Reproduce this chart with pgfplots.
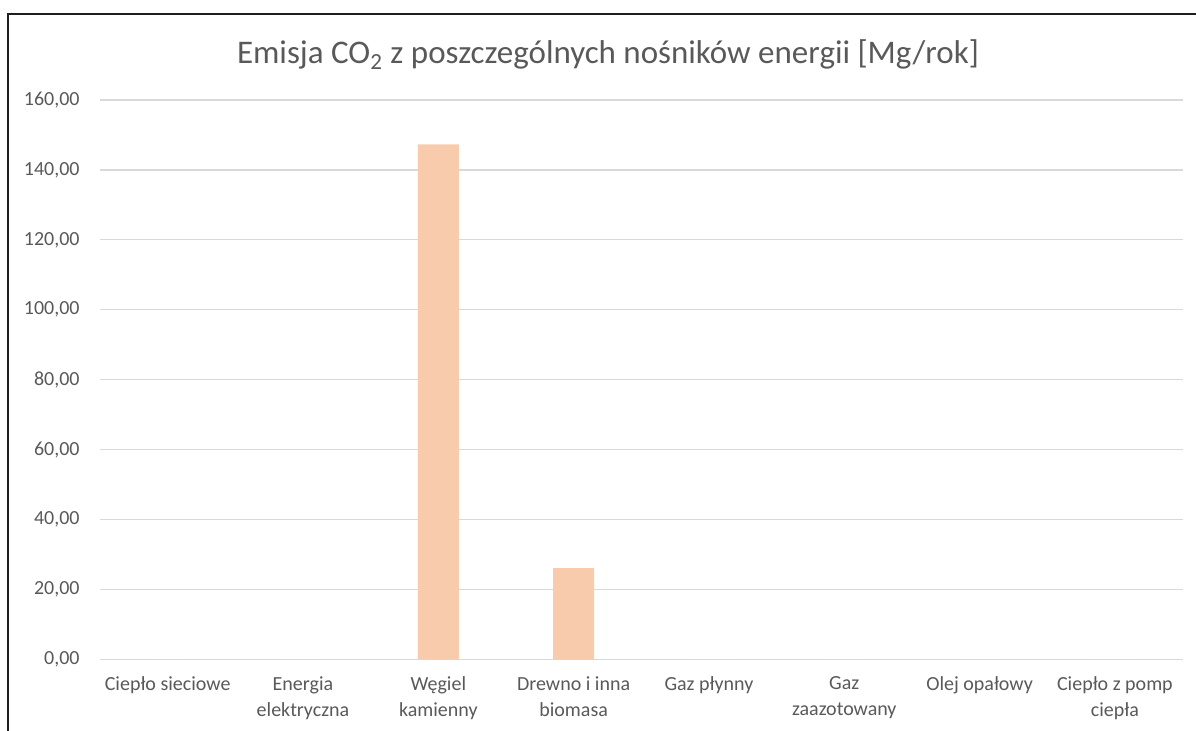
\documentclass[border=0pt]{standalone}
\usepackage{pgfplots}
\pgfplotsset{compat=1.18}
\usepackage{fontspec}
\setmainfont{Carlito}
\definecolor{txt}{HTML}{595959}
\definecolor{gridc}{HTML}{D9D9D9}
\definecolor{barc}{HTML}{F8CBAD}
\begin{document}
\begin{tikzpicture}
\useasboundingbox (0pt,0pt) rectangle (598pt,365.5pt);
\clip (0pt,0pt) rectangle (598pt,365.5pt);
\draw[line width=1.25pt, color=black!88] (4pt,-10pt) rectangle (620pt,358.6pt);
\node[anchor=base, text=txt, font=\fontsize{16.5}{20}\selectfont, inner sep=0pt] at (304pt,333.5pt) {Emisja CO\textsubscript{2} z poszczególnych nośników energii [Mg/rok]};
\begin{axis}[
  at={(50pt,35.8pt)}, anchor=south west,
  scale only axis, width=541.3pt, height=279.7pt,
  xmin=-0.5, xmax=7.5, ymin=0, ymax=160,
  ytick={0,20,...,160},
  xtick={0,...,7},
  xticklabels={Ciepło sieciowe, Energia\\elektryczna, Węgiel\\kamienny, Drewno i inna\\biomasa, Gaz płynny, Gaz\\zaazotowany, Olej opałowy, Ciepło z pomp\\ciepła},
  axis line style={draw=none},
  major tick length=0pt,
  tick style={draw=none},
  ymajorgrids,
  major grid style={color=gridc, line width=0.6pt},
  /pgf/number format/.cd, fixed, fixed zerofill, precision=2, use comma, 1000 sep={}, assume math mode=true,
  /pgfplots/.cd,
  yticklabel style={anchor=east, inner sep=0pt, xshift=-10pt, text=txt, font=\fontsize{10}{13}\selectfont},
  xticklabel style={anchor=north, inner sep=0pt, yshift=-8.5pt, align=center, text=txt, font=\fontsize{10}{13}\selectfont},
  ybar, bar width=20.5pt,
  clip=false,
]
\addplot[fill=barc, draw=none] coordinates {(0,0) (1,0) (2,147.3) (3,26.1) (4,0) (5,0) (6,0) (7,0)};
\end{axis}
\end{tikzpicture}
\end{document}
